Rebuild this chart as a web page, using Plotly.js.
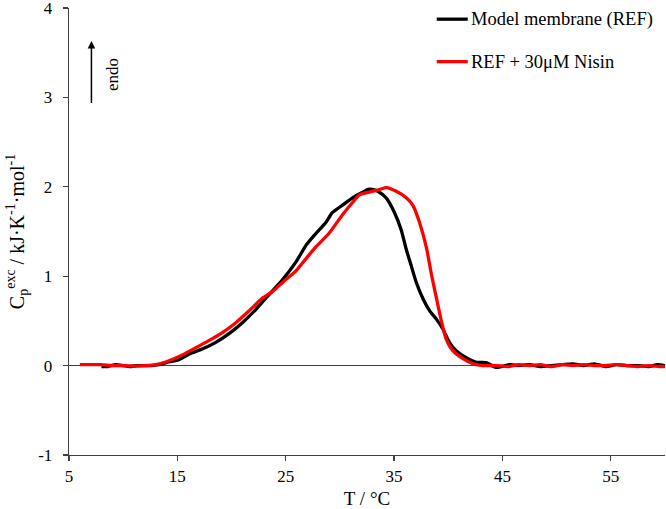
<!DOCTYPE html>
<html>
<head>
<meta charset="utf-8">
<script src="https://cdn.plot.ly/plotly-3.0.1.min.js"></script>
<style>html,body{margin:0;padding:0;background:#fff;}#chart{width:666px;height:509px;}</style>
</head>
<body>
<div id="chart"></div>
<script>
// Model membrane (REF)
const refT = [8.0, 8.6, 9.3, 10.0, 10.6, 11.3, 12.0, 12.6, 13.3, 14.2, 15.0, 16.1, 17.3, 18.55, 19.8, 21.0, 22.25, 23.5, 24.7, 25.95, 26.9, 27.8, 28.7, 29.3, 30.3, 31.2, 32.1, 32.6, 33.0, 33.5, 34.3, 35.0, 35.65, 36.1, 36.6, 37.05, 37.7, 38.3, 38.9, 39.5, 40.1, 40.7, 41.7, 42.6, 43.5, 44.4, 45.7, 46.5, 47.5, 48.5, 49.5, 50.5, 51.5, 52.5, 53.5, 54.5, 55.5, 56.5, 57.5, 58.5, 59.3, 60.0];
const refCp = [-0.01, -0.01, 0.01, 0.0, -0.01, 0.0, 0.0, 0.0, 0.01, 0.04, 0.06, 0.13, 0.185, 0.26, 0.36, 0.48, 0.63, 0.80, 0.96, 1.16, 1.35, 1.48, 1.60, 1.71, 1.80, 1.88, 1.94, 1.97, 1.97, 1.95, 1.87, 1.72, 1.52, 1.31, 1.11, 0.93, 0.74, 0.61, 0.52, 0.41, 0.26, 0.17, 0.085, 0.037, 0.033, -0.02, 0.01, 0.0, 0.01, -0.01, 0.0, 0.01, 0.02, 0.0, 0.02, -0.01, 0.01, 0.0, 0.0, -0.01, 0.01, 0.0];

// REF + 30 µM Nisin
const nisT = [6.0, 7.0, 8.0, 9.0, 10.0, 11.0, 12.0, 13.0, 14.23, 15.46, 16.7, 17.9, 19.16, 20.4, 21.6, 22.9, 23.8, 24.7, 25.95, 26.9, 27.8, 29.0, 30.26, 31.2, 31.8, 32.7, 33.65, 34.3, 35.2, 36.1, 36.75, 37.35, 38.0, 38.43, 38.9, 39.36, 39.8, 40.4, 41.4, 42.3, 43.2, 44.4, 45.5, 46.5, 47.5, 48.5, 49.5, 50.5, 51.5, 52.5, 53.5, 54.5, 55.5, 56.5, 57.5, 58.5, 59.5, 60.0];
const nisCp = [0.01, 0.01, 0.01, 0.0, 0.0, -0.005, 0.0, 0.01, 0.055, 0.12, 0.20, 0.28, 0.37, 0.48, 0.61, 0.76, 0.83, 0.93, 1.06, 1.20, 1.33, 1.48, 1.69, 1.83, 1.91, 1.94, 1.97, 1.99, 1.95, 1.88, 1.79, 1.60, 1.31, 1.03, 0.76, 0.50, 0.30, 0.17, 0.074, 0.019, 0.0, 0.0, -0.01, 0.01, 0.0, 0.01, -0.01, 0.01, 0.0, 0.01, 0.0, 0.0, 0.01, 0.0, -0.01, 0.0, -0.01, -0.01];

const seriesNames = ['Model membrane (REF)', 'REF + 30\u03bcM Nisin'];
const seriesColors = ['#000000', '#ff0000'];
const xTicks = [5, 15, 25, 35, 45, 55];
const yTicks = [-1, 0, 1, 2, 3, 4];

const FONT = 'Liberation Serif, Times New Roman, serif';

const traces = [
  {x: refT, y: refCp, name: seriesNames[0], mode: 'lines', line: {color: seriesColors[0], width: 3.3, shape: 'spline', smoothing: 0.6}, showlegend: false},
  {x: nisT, y: nisCp, name: seriesNames[1], mode: 'lines', line: {color: seriesColors[1], width: 3.3, shape: 'spline', smoothing: 0.6}, showlegend: false}
];

const legendRows = [0.975, 0.88];
const shapes = [];
const annotations = [];
seriesNames.forEach((n, i) => {
  shapes.push({type: 'line', xref: 'paper', yref: 'paper', x0: 0.617, x1: 0.669, y0: legendRows[i], y1: legendRows[i], line: {color: seriesColors[i], width: 3.3}});
  annotations.push({xref: 'paper', yref: 'paper', x: 0.671, y: legendRows[i], xanchor: 'left', yanchor: 'middle', text: n, showarrow: false, font: {family: FONT, size: 18.5, color: '#000'}});
});
// endo arrow
annotations.push({x: 7.07, y: 3.63, ax: 7.07, ay: 2.92, xref: 'x', yref: 'y', axref: 'x', ayref: 'y', text: '', showarrow: true, arrowhead: 2, arrowsize: 1, arrowwidth: 1.5, arrowcolor: '#000'});
annotations.push({x: 8.95, y: 3.26, xref: 'x', yref: 'y', text: 'endo', textangle: -90, showarrow: false, font: {family: FONT, size: 17, color: '#000'}});

const layout = {
  width: 666, height: 509,
  margin: {l: 69, r: 1, t: 8, b: 54},
  paper_bgcolor: '#fff', plot_bgcolor: '#fff',
  font: {family: FONT, size: 16, color: '#000'},
  showlegend: false,
  xaxis: {
    range: [5, 60], tickvals: xTicks, ticktext: xTicks.map(String),
    showgrid: false, zeroline: false, showline: true, linecolor: '#404040', linewidth: 1.3,
    ticks: 'outside', ticklen: 5, tickcolor: '#404040', tickwidth: 1.3,
    tickfont: {family: FONT, size: 17, color: '#000'},
    ticklabeloverflow: 'allow',
    title: {text: 'T / \u00b0C', font: {family: FONT, size: 19, color: '#000'}, standoff: 9}
  },
  yaxis: {
    range: [-1, 4], tickvals: yTicks, ticktext: yTicks.map(String),
    showgrid: false, zeroline: true, zerolinecolor: '#404040', zerolinewidth: 1.3,
    showline: true, linecolor: '#404040', linewidth: 1.3,
    ticks: 'outside', ticklen: 5, tickcolor: '#404040', tickwidth: 1.3,
    tickfont: {family: FONT, size: 17, color: '#000'},
    ticklabeloverflow: 'allow', ticklabelstandoff: 7,
    title: {text: 'C<sub>p</sub><sup>exc</sup> / kJ\u00b7K<sup>-1</sup>\u00b7mol<sup>-1</sup>', font: {family: FONT, size: 20, color: '#000'}, standoff: 8}
  },
  shapes: shapes,
  annotations: annotations
};

Plotly.newPlot('chart', traces, layout, {staticPlot: true, displayModeBar: false});
</script>
</body>
</html>
